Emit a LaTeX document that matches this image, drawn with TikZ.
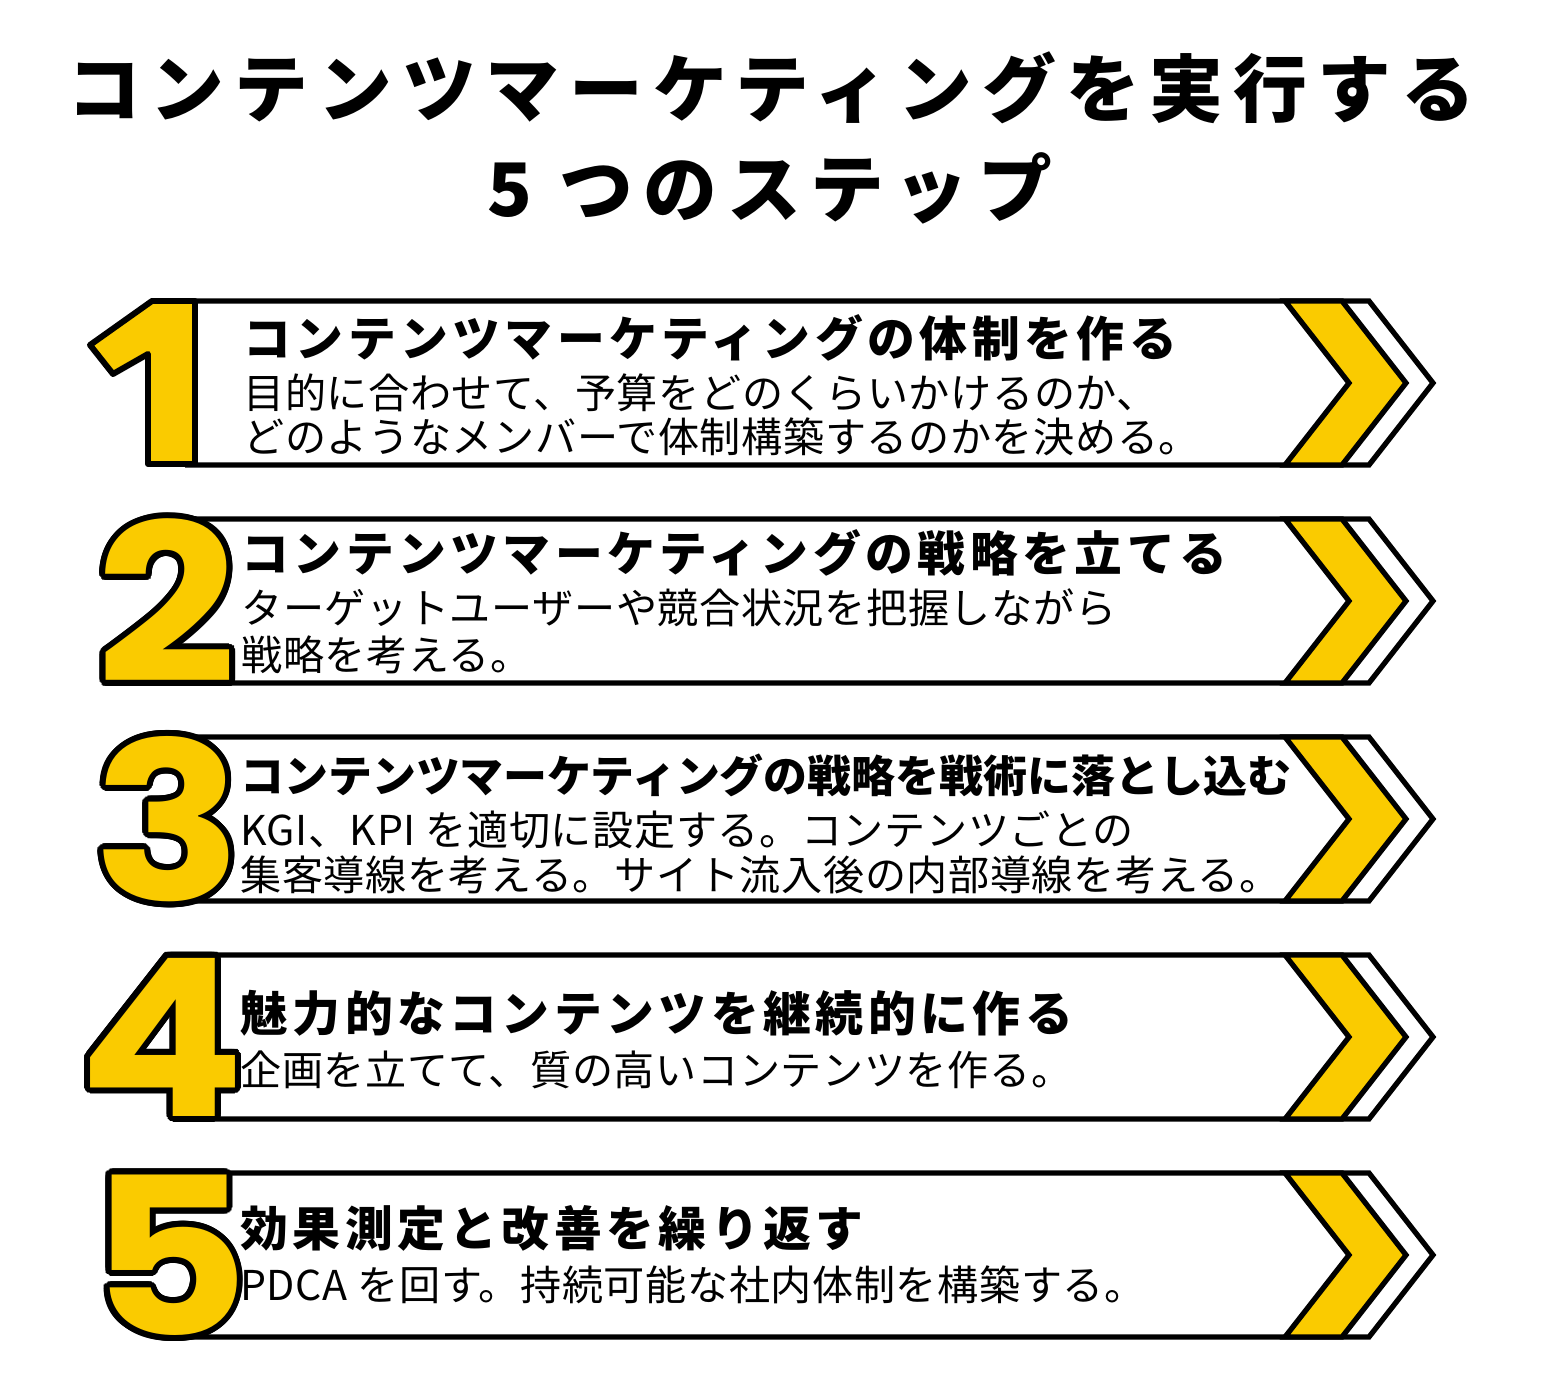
\documentclass[tikz,border=0pt]{standalone}
\usepackage{fontspec}
\setmainfont{Noto Sans CJK JP}
\newfontfamily\numfont{Poppins}
\usetikzlibrary{calc}
\definecolor{stepyellow}{RGB}{250,203,0}

\begin{document}
\begin{tikzpicture}[
    x=0.02cm, y=-0.02cm,
    title/.style={inner sep=0, font=\fontsize{42}{44}\selectfont\bfseries\addfontfeature{LetterSpace=13.5}},
    head/.style={anchor=west, inner sep=0, font=\fontsize{27.2}{29}\selectfont\bfseries\addfontfeature{LetterSpace=9.5}},
    body/.style={anchor=west, inner sep=0, font=\fontsize{23.4}{25}\selectfont\addfontfeature{LetterSpace=1.5}},
    digit/.style={inner sep=0, font=\fontsize{125}{125}\selectfont\numfont\bfseries\addfontfeature{FakeStretch=1.12}, text=stepyellow},
    stepbox/.style={draw=black, line width=3pt, fill=white},
    chevron/.style={draw=black, line width=3pt, fill=stepyellow},
]
\useasboundingbox[fill=white] (0,0) rectangle (1563,1395);

% ====== Title ======
\node[title] (title1) at (771,88) {コンテンツマーケティングを実行する};
\node[title] (title2) at (770,188) {5 つのステップ};

% ====== Step boxes ======
\draw[stepbox] (185,301) -- (1369,301) -- (1433,383) -- (1369,465) -- (185,465);
\draw[chevron] (1285,301) -- (1342,301) -- (1406,383) -- (1342,465) -- (1285,465) -- (1349,383) -- cycle;

\draw[stepbox] (185,519) -- (1369,519) -- (1433,601) -- (1369,683) -- (185,683);
\draw[chevron] (1285,519) -- (1342,519) -- (1406,601) -- (1342,683) -- (1285,683) -- (1349,601) -- cycle;

\draw[stepbox] (185,737) -- (1369,737) -- (1433,819) -- (1369,901) -- (185,901);
\draw[chevron] (1285,737) -- (1342,737) -- (1406,819) -- (1342,901) -- (1285,901) -- (1349,819) -- cycle;

\draw[stepbox] (185,955) -- (1369,955) -- (1433,1037) -- (1369,1119) -- (185,1119);
\draw[chevron] (1285,955) -- (1342,955) -- (1406,1037) -- (1342,1119) -- (1285,1119) -- (1349,1037) -- cycle;

\draw[stepbox] (185,1173) -- (1369,1173) -- (1433,1255) -- (1369,1337) -- (185,1337);
\draw[chevron] (1285,1173) -- (1342,1173) -- (1406,1255) -- (1342,1337) -- (1285,1337) -- (1349,1255) -- cycle;

% ====== Big numbers (black copies make the outline) ======
\draw[draw=black, line width=3.4pt, line join=round, fill=stepyellow]
    (152,301) -- (195,301) -- (195,464) -- (148,464) -- (148,354) -- (113,374) -- (90,345) -- cycle;
\foreach \d/\px/\py in {2/167/601, 3/168/819, 4/162/1037, 5/169/1255} {
    \foreach \a in {0,15,...,345}
        \node[digit, text=black, shift={(\a:6)}] (n\d-\a) at (\px,\py) {\d};
    \node[digit] (n\d) at (\px,\py) {\d};
}

% ====== Step texts ======
\node[head] (h1) at (243,338) {コンテンツマーケティングの体制を作る};
\node[body] (b1a) at (243,393) {目的に合わせて、予算をどのくらいかけるのか、};
\node[body] (b1b) at (243,437) {どのようなメンバーで体制構築するのかを決める。};

\node[head] (h2) at (241,553) {コンテンツマーケティングの戦略を立てる};
\node[body] (b2a) at (241,608) {ターゲットユーザーや競合状況を把握しながら};
\node[body] (b2b) at (241,655) {戦略を考える。};

\node[head, font=\fontsize{25}{27}\selectfont\bfseries] (h3) at (240,775) {コンテンツマーケティングの戦略を戦術に落とし込む};
\node[body] (b3a) at (240,830) {KGI、KPI を適切に設定する。コンテンツごとの};
\node[body] (b3b) at (240,875) {集客導線を考える。サイト流入後の内部導線を考える。};

\node[head] (h4) at (240,1013) {魅力的なコンテンツを継続的に作る};
\node[body] (b4) at (240,1070) {企画を立てて、質の高いコンテンツを作る。};

\node[head] (h5) at (240,1228) {効果測定と改善を繰り返す};
\node[body] (b5) at (240,1285) {PDCA を回す。持続可能な社内体制を構築する。};

\end{tikzpicture}
\end{document}
